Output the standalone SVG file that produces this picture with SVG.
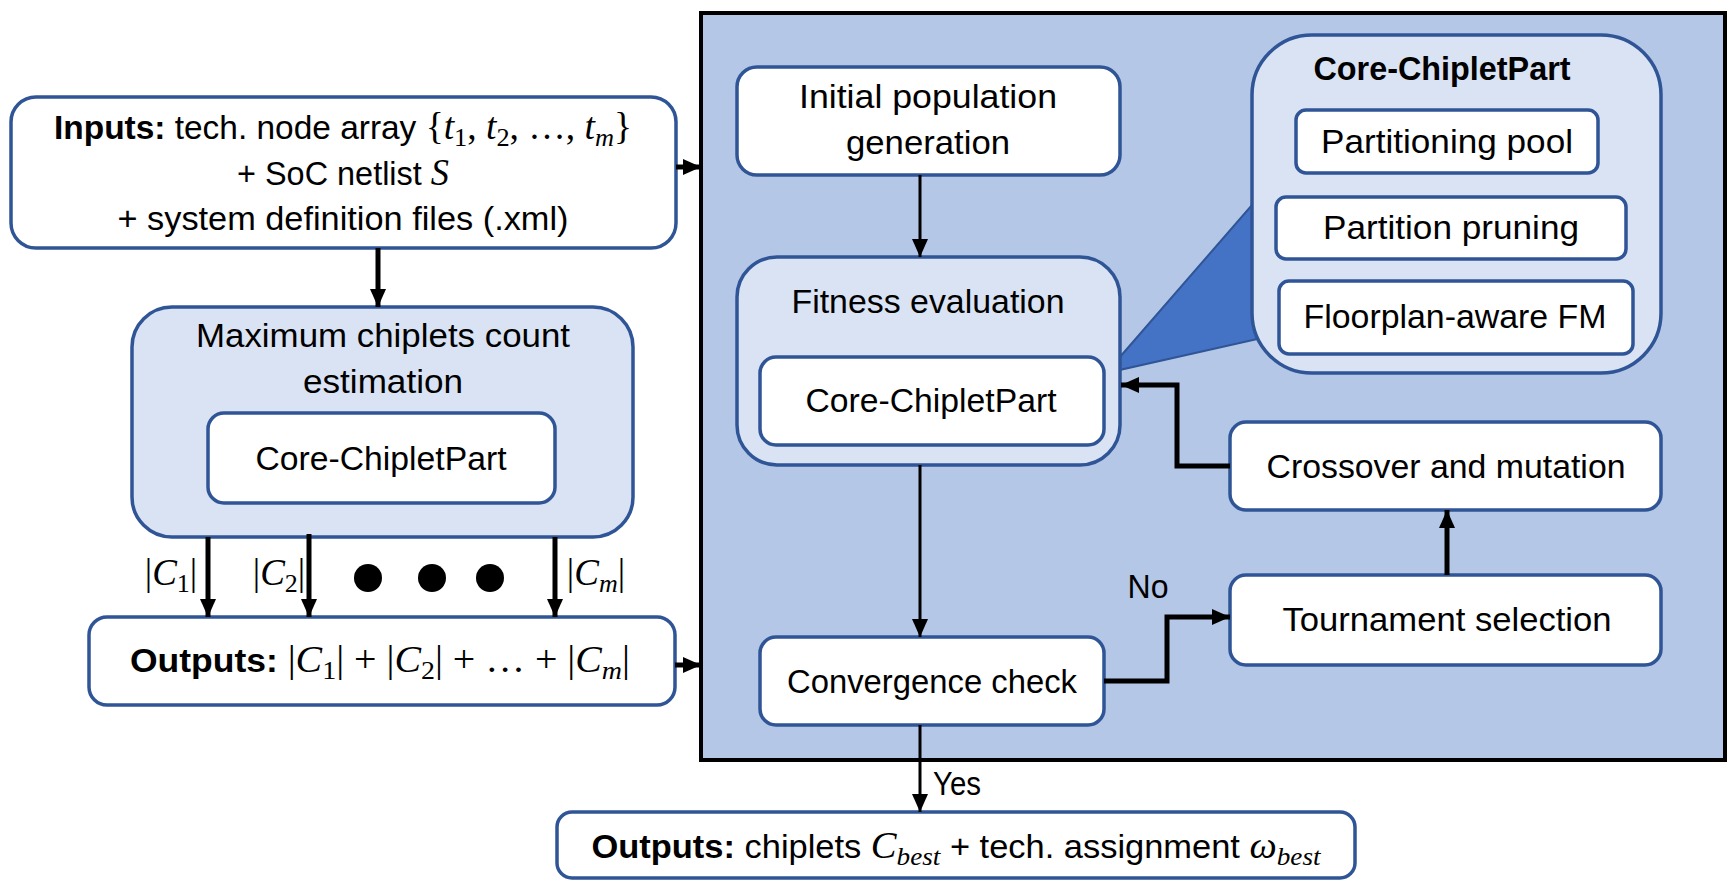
<svg xmlns="http://www.w3.org/2000/svg" width="1728" height="890" viewBox="0 0 1728 890">
<style>
.box{fill:#fff;stroke:#2F5597;stroke-width:3.5}
.lbox{fill:#DAE3F3;stroke:#2F5597;stroke-width:3.5}
.t{font-family:"Liberation Sans",Arial,sans-serif;font-size:33px;fill:#000;text-anchor:middle}
.m{font-family:"Liberation Serif","Times New Roman",serif;font-style:italic;font-size:37px}
.mu{font-family:"Liberation Serif","Times New Roman",serif;font-style:normal;font-size:37px}
.m.sub,.mu.sub{font-size:26px}
.sub{font-size:26px}
.thin{stroke:#000;stroke-width:3;fill:none}
.thick{stroke:#000;stroke-width:5;fill:none}
</style>
<defs>
<marker id="ah" markerUnits="userSpaceOnUse" markerWidth="18" markerHeight="16" refX="18" refY="8" orient="auto" viewBox="0 0 18 16">
<path d="M0,0 L18,8 L0,16 z" fill="#000"/>
</marker>
</defs>
<rect x="0" y="0" width="1728" height="890" fill="#fff"/>

<g id="panel">
<rect x="701" y="13" width="1024" height="747" fill="#B4C7E7" stroke="#000" stroke-width="4"/>
</g>

<g id="callout">
<polygon points="1106,373 1252,205 1262,338" fill="#4472C4" stroke="#2F5597" stroke-width="2"/>
</g>

<g id="inputs">
<rect class="box" x="11" y="97" width="665" height="151" rx="25"/>
<text class="t" x="343" y="139" textLength="578" lengthAdjust="spacingAndGlyphs"><tspan font-weight="bold">Inputs:</tspan> tech. node array <tspan class="mu">{</tspan><tspan class="m">t</tspan><tspan class="mu sub" dy="7">1</tspan><tspan class="mu" dy="-7">, </tspan><tspan class="m">t</tspan><tspan class="mu sub" dy="7">2</tspan><tspan class="mu" dy="-7">, …, </tspan><tspan class="m">t</tspan><tspan class="m sub" dy="7">m</tspan><tspan class="mu" dy="-7">}</tspan></text>
<text class="t" x="343" y="185" textLength="212" lengthAdjust="spacingAndGlyphs">+ SoC netlist <tspan class="m">S</tspan></text>
<text class="t" x="343" y="230" textLength="451" lengthAdjust="spacingAndGlyphs">+ system definition files (.xml)</text>
</g>

<g id="maxcount">
<rect class="lbox" x="132" y="307" width="501" height="230" rx="40"/>
<text class="t" x="383" y="347" textLength="374" lengthAdjust="spacingAndGlyphs">Maximum chiplets count</text>
<text class="t" x="383" y="393" textLength="160" lengthAdjust="spacingAndGlyphs">estimation</text>
</g>

<g id="ccp-left">
<rect class="box" x="208" y="413" width="347" height="90" rx="16"/>
<text class="t" x="381" y="470" textLength="251" lengthAdjust="spacingAndGlyphs">Core-ChipletPart</text>
</g>

<g id="outputs-left">
<rect class="box" x="89" y="617" width="586" height="88" rx="18"/>
<text class="t" x="380" y="672" textLength="500" lengthAdjust="spacingAndGlyphs"><tspan font-weight="bold">Outputs:</tspan> <tspan class="mu">|</tspan><tspan class="m">C</tspan><tspan class="mu sub" dy="7">1</tspan><tspan class="mu" dy="-7">| + |</tspan><tspan class="m">C</tspan><tspan class="mu sub" dy="7">2</tspan><tspan class="mu" dy="-7">| +  … + |</tspan><tspan class="m">C</tspan><tspan class="m sub" dy="7">m</tspan><tspan class="mu" dy="-7">|</tspan></text>
</g>

<g id="dots">
<circle cx="368" cy="578" r="14" fill="#000"/>
<circle cx="432" cy="578" r="14" fill="#000"/>
<circle cx="490" cy="578" r="14" fill="#000"/>
</g>

<g id="initpop">
<rect class="box" x="737" y="67" width="383" height="108" rx="20"/>
<text class="t" x="928" y="108" textLength="258" lengthAdjust="spacingAndGlyphs">Initial population</text>
<text class="t" x="928" y="154" textLength="164" lengthAdjust="spacingAndGlyphs">generation</text>
</g>

<g id="fitness">
<rect class="lbox" x="737" y="257" width="383" height="208" rx="40"/>
<text class="t" x="928" y="313" textLength="273" lengthAdjust="spacingAndGlyphs">Fitness evaluation</text>
</g>

<g id="ccp-mid">
<rect class="box" x="760" y="357" width="344" height="88" rx="16"/>
<text class="t" x="931" y="412" textLength="251" lengthAdjust="spacingAndGlyphs">Core-ChipletPart</text>
</g>

<g id="ccp-group">
<rect class="lbox" x="1252" y="35" width="409" height="338" rx="60"/>
<text class="t" x="1442" y="80" font-weight="bold" textLength="257" lengthAdjust="spacingAndGlyphs">Core-ChipletPart</text>
</g>

<g id="pool">
<rect class="box" x="1296" y="110" width="302" height="63" rx="10"/>
<text class="t" x="1447" y="153" textLength="252" lengthAdjust="spacingAndGlyphs">Partitioning pool</text>
</g>

<g id="pruning">
<rect class="box" x="1276" y="197" width="350" height="62" rx="10"/>
<text class="t" x="1451" y="239" textLength="256" lengthAdjust="spacingAndGlyphs">Partition pruning</text>
</g>

<g id="fm">
<rect class="box" x="1279" y="281" width="354" height="73" rx="10"/>
<text class="t" x="1455" y="328" textLength="303" lengthAdjust="spacingAndGlyphs">Floorplan-aware FM</text>
</g>

<g id="crossover">
<rect class="box" x="1230" y="422" width="431" height="88" rx="16"/>
<text class="t" x="1446" y="478" textLength="359" lengthAdjust="spacingAndGlyphs">Crossover and mutation</text>
</g>

<g id="tournament">
<rect class="box" x="1230" y="575" width="431" height="90" rx="16"/>
<text class="t" x="1447" y="631" textLength="329" lengthAdjust="spacingAndGlyphs">Tournament selection</text>
</g>

<g id="convergence">
<rect class="box" x="760" y="637" width="344" height="88" rx="16"/>
<text class="t" x="932" y="693" textLength="290" lengthAdjust="spacingAndGlyphs">Convergence check</text>
</g>

<g id="outputs-final">
<rect class="box" x="557" y="812" width="798" height="66" rx="15"/>
<text class="t" x="956" y="858" textLength="729" lengthAdjust="spacingAndGlyphs"><tspan font-weight="bold">Outputs:</tspan> chiplets <tspan class="m">C</tspan><tspan class="m sub" dy="7">best</tspan><tspan dy="-7"> + tech. assignment </tspan><tspan class="m">ω</tspan><tspan class="m sub" dy="7">best</tspan></text>
</g>

<g id="connectors">
<line class="thick" x1="378" y1="248" x2="378" y2="307" marker-end="url(#ah)"/>
<line class="thick" x1="676" y1="167" x2="701" y2="167" marker-end="url(#ah)"/>
<line class="thick" x1="675" y1="665" x2="701" y2="665" marker-end="url(#ah)"/>
<line class="thick" x1="208" y1="537" x2="208" y2="617" marker-end="url(#ah)"/>
<line class="thick" x1="309" y1="534" x2="309" y2="617" marker-end="url(#ah)"/>
<line class="thick" x1="555" y1="537" x2="555" y2="617" marker-end="url(#ah)"/>
<line class="thin" x1="920" y1="175" x2="920" y2="257" marker-end="url(#ah)"/>
<line class="thin" x1="920" y1="465" x2="920" y2="637" marker-end="url(#ah)"/>
<line class="thin" x1="920" y1="725" x2="920" y2="812" marker-end="url(#ah)"/>
<polyline class="thick" points="1104,681 1167,681 1167,617 1230,617" marker-end="url(#ah)"/>
<line class="thick" x1="1447" y1="575" x2="1447" y2="510" marker-end="url(#ah)"/>
<polyline class="thick" points="1230,466 1177,466 1177,385 1121,385" marker-end="url(#ah)"/>
<text class="t" x="171" y="585"><tspan class="mu">|</tspan><tspan class="m">C</tspan><tspan class="mu sub" dy="7">1</tspan><tspan class="mu" dy="-7">|</tspan></text>
<text class="t" x="279" y="585"><tspan class="mu">|</tspan><tspan class="m">C</tspan><tspan class="mu sub" dy="7">2</tspan><tspan class="mu" dy="-7">|</tspan></text>
<text class="t" x="596" y="585"><tspan class="mu">|</tspan><tspan class="m">C</tspan><tspan class="m sub" dy="7">m</tspan><tspan class="mu" dy="-7">|</tspan></text>
<text class="t" x="1148" y="598" textLength="41" lengthAdjust="spacingAndGlyphs">No</text>
<text class="t" x="957" y="795" textLength="48" lengthAdjust="spacingAndGlyphs">Yes</text>
</g>
</svg>
